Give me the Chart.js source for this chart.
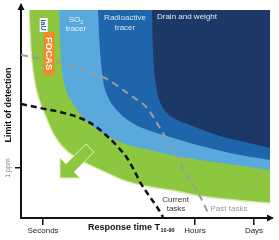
<!DOCTYPE html>
<html>
<head>
<meta charset="utf-8">
<script src="https://cdn.jsdelivr.net/npm/chart.js@4.4.1/dist/chart.umd.min.js"></script>
<style>
html,body{margin:0;padding:0;background:#ffffff;}
#wrap{position:relative;width:279px;height:240px;}
canvas{display:block;}
</style>
</head>
<body>
<div id="wrap"><canvas id="chart" width="279" height="240"></canvas></div>
<script>
// Conceptual diagram: x = log10(response time in seconds), y = log limit of detection (1 ppm = 0)
const xTickValues = [0, 3.556, 4.936];
const xTickLabels = ['Seconds', 'Hours', 'Days'];
const yTickValues = [0];
const yTickLabels = ['1 ppm'];

const regionTop = 3.95;

// iaU FOCAS (green) region boundary
const focasX = [-0.327, -0.304, -0.281, -0.234, -0.164, -0.070, 0.070, 0.234, 0.444, 0.749, 1.099, 1.450, 1.871, 2.386, 2.971, 3.673, 4.491, 5.310];
const focasY = [3.95, 3.45, 2.95, 2.45, 2.0, 1.65, 1.275, 0.875, 0.55, 0.275, 0.075, -0.1, -0.3, -0.45, -0.55, -0.7, -0.8, -0.875];
// SO2 tracer region boundary
const so2X = [0.374, 0.398, 0.444, 0.538, 0.678, 0.866, 1.099, 1.333, 1.871, 2.503, 2.971, 3.673, 4.491, 5.310];
const so2Y = [3.95, 3.2, 2.45, 1.95, 1.65, 1.35, 1.1, 0.9, 0.625, 0.45, 0.325, 0.2, 0.075, -0.05];
// Radioactive tracer region boundary
const radioX = [1.287, 1.333, 1.404, 1.520, 1.684, 1.918, 2.269, 2.971, 3.439, 4.374, 5.310];
const radioY = [3.95, 2.95, 2.2, 1.775, 1.5, 1.25, 1.025, 0.775, 0.625, 0.375, 0.2];
// Drain and weight region boundary
const drainX = [2.550, 2.573, 2.643, 2.737, 2.901, 3.135, 3.439, 4.140, 4.725, 5.310];
const drainY = [3.95, 2.95, 2.075, 1.65, 1.375, 1.2, 1.075, 0.8, 0.65, 0.5];
// Past tasks (grey dashed)
const pastX = [-0.515, 0.398, 1.450, 2.035, 2.433, 2.737, 2.971, 3.322, 3.509, 3.719, 3.860];
const pastY = [2.825, 2.625, 2.25, 1.825, 1.5, 1.0, 0.575, -0.1, -0.425, -0.8, -1.125];
// Current tasks (black dashed)
const currentX = [-0.515, -0.070, 0.398, 0.866, 1.216, 1.497, 1.754, 1.965, 2.129, 2.269, 2.503, 2.667, 2.807];
const currentY = [1.6, 1.5, 1.4, 1.25, 1.05, 0.8, 0.525, 0.25, -0.05, -0.35, -0.725, -0.975, -1.225];
// Green improvement arrow outline
const arrowX = [0.398, 0.866, 0.725, 1.193, 1.006, 0.538, 0.398];
const arrowY = [-0.25, -0.25, -0.1, 0.4, 0.6, 0.1, 0.25];

const FONT = "'Liberation Sans', Arial, Helvetica, sans-serif";

function pts(xs, ys) { return xs.map((x, i) => ({x: x, y: ys[i]})); }

function region(label, xs, ys, color, order, border) {
  return {
    label: label, data: pts(xs, ys),
    backgroundColor: color,
    borderColor: border || color,
    borderWidth: border ? 1.3 : 0,
    fill: {value: regionTop},
    pointRadius: 0, pointHoverRadius: 0,
    cubicInterpolationMode: 'monotone',
    order: order
  };
}

const labels = [
  {text: 'tracer', x: 0.772, y: 3.475, color: '#e6f1fa', size: 8},
  {text: 'Radioactive', x: 1.918, y: 3.75, color: '#d8e5f2', size: 8},
  {text: 'tracer', x: 1.918, y: 3.5, color: '#d8e5f2', size: 8},
  {text: 'Drain and weight', x: 3.368, y: 3.775, color: '#dfe7f1', size: 8},
  {text: 'Current', x: 3.1, y: -0.8, color: '#333333', size: 8},
  {text: 'tasks', x: 3.111, y: -1.025, color: '#333333', size: 8},
  {text: 'Past tasks', x: 4.35, y: -1.025, color: '#9a9a9a', size: 8}
];

const decor = {
  id: 'decor',
  afterDatasetsDraw(chart) {
    const ctx = chart.ctx;
    const sx = chart.scales.x, sy = chart.scales.y;
    const X = v => sx.getPixelForValue(v), Y = v => sy.getPixelForValue(v);
    ctx.save();
    // arrow
    ctx.beginPath();
    arrowX.forEach((v, i) => { const px = X(v), py = Y(arrowY[i]); if (i === 0) ctx.moveTo(px, py); else ctx.lineTo(px, py); });
    ctx.closePath();
    ctx.fillStyle = '#8dc63f';
    ctx.fill();
    ctx.strokeStyle = '#dcefb8';
    ctx.lineWidth = 1;
    ctx.stroke();
    // region labels
    ctx.textAlign = 'center';
    ctx.textBaseline = 'middle';
    labels.forEach(l => {
      ctx.font = l.size + 'px ' + FONT;
      ctx.fillStyle = l.color;
      ctx.fillText(l.text, X(l.x), Y(l.y));
    });
    // SO2 with subscript
    ctx.fillStyle = '#e6f1fa';
    ctx.font = '8px ' + FONT;
    const soW = ctx.measureText('SO').width;
    ctx.font = '5.5px ' + FONT;
    const twoW = ctx.measureText('2').width;
    const cx = X(0.772), cy = Y(3.7);
    ctx.textAlign = 'left';
    ctx.font = '8px ' + FONT;
    ctx.fillText('SO', cx - (soW + twoW) / 2, cy);
    ctx.font = '5.5px ' + FONT;
    ctx.fillText('2', cx - (soW + twoW) / 2 + soW, cy + 2.5);
    // logo: iaU (white box) + FOCAS (orange box)
    const wx = X(0.016), wy = Y(3.575);
    ctx.fillStyle = '#ffffff';
    ctx.fillRect(wx - 4, wy - 7, 8, 14);
    ctx.save();
    ctx.translate(wx, wy);
    ctx.rotate(Math.PI / 2);
    ctx.textAlign = 'center';
    ctx.fillStyle = '#1d5ea8';
    ctx.font = 'bold 7px ' + FONT;
    ctx.fillText('iaU', 0, 0.5);
    ctx.restore();
    const ox = X(0.140), oy = Y(2.86);
    ctx.fillStyle = '#f08a2a';
    ctx.fillRect(ox - 5.5, oy - 21.5, 11, 43);
    ctx.save();
    ctx.translate(ox, oy);
    ctx.rotate(Math.PI / 2);
    ctx.textAlign = 'center';
    ctx.fillStyle = '#ffffff';
    ctx.font = 'bold 9.5px ' + FONT;
    ctx.fillText('FOCAS', 0, 0.5);
    ctx.restore();
    ctx.restore();
  },
  afterDraw(chart) {
    const ctx = chart.ctx;
    const a = chart.chartArea;
    const sy = chart.scales.y, sx = chart.scales.x;
    ctx.save();
    ctx.fillStyle = '#111111';
    // y axis arrowhead
    ctx.beginPath();
    ctx.moveTo(a.left, a.top - 2);
    ctx.lineTo(a.left - 3.5, a.top + 5);
    ctx.lineTo(a.left + 3.5, a.top + 5);
    ctx.closePath();
    ctx.fill();
    // x axis arrowhead
    ctx.beginPath();
    ctx.moveTo(a.right + 2, a.bottom);
    ctx.lineTo(a.right - 5, a.bottom - 3.5);
    ctx.lineTo(a.right - 5, a.bottom + 3.5);
    ctx.closePath();
    ctx.fill();
    // y title
    ctx.save();
    ctx.translate(a.left - 12, sy.getPixelForValue(1.575));
    ctx.rotate(-Math.PI / 2);
    ctx.textAlign = 'center';
    ctx.textBaseline = 'middle';
    ctx.font = 'bold 9px ' + FONT;
    ctx.fillText('Limit of detection', 0, 0);
    ctx.restore();
    // x title
    const tx = sx.getPixelForValue(1.053), ty = a.bottom + 10;
    ctx.textAlign = 'left';
    ctx.textBaseline = 'middle';
    ctx.font = 'bold 9px ' + FONT;
    ctx.fillText('Response time T', tx, ty);
    const w = ctx.measureText('Response time T').width;
    ctx.font = 'bold 5.5px ' + FONT;
    ctx.fillText('10-90', tx + w + 0.5, ty + 2.5);
    ctx.restore();
  }
};

new Chart(document.getElementById('chart'), {
  type: 'line',
  data: {
    datasets: [
      {label: 'Current tasks', data: pts(currentX, currentY), borderColor: '#111111', borderWidth: 2.5, borderDash: [6, 4], fill: false, pointRadius: 0, cubicInterpolationMode: 'monotone', order: 1},
      {label: 'Past tasks', data: pts(pastX, pastY), borderColor: '#9c9c9c', borderWidth: 2, borderDash: [7, 5], fill: false, pointRadius: 0, cubicInterpolationMode: 'monotone', order: 2},
      region('Drain and weight', drainX, drainY, '#1c3866', 4),
      region('Radioactive tracer', radioX, radioY, '#1f65ab', 5),
      region('SO2 tracer', so2X, so2Y, '#59a9dd', 6),
      region('iaU FOCAS', focasX, focasY, '#8dc63f', 7, '#d3e9a8')
    ]
  },
  options: {
    responsive: false,
    animation: false,
    devicePixelRatio: 1,
    layout: {padding: {left: 0, top: 5, right: 7, bottom: 0}},
    plugins: {legend: {display: false}, tooltip: {enabled: false}},
    scales: {
      x: {
        type: 'linear', min: -0.515, max: 5.357,
        afterFit(s) { s.height = 22; },
        afterBuildTicks(s) { s.ticks = xTickValues.map(v => ({value: v})); },
        ticks: {callback: (v, i) => xTickLabels[i], autoSkip: false, minRotation: 0, maxRotation: 0, padding: 1, color: '#222222', font: {size: 8, family: FONT}},
        grid: {drawOnChartArea: false, drawTicks: true, tickLength: 7, color: '#111111', lineWidth: 1.5},
        border: {display: true, color: '#111111', width: 2}
      },
      y: {
        type: 'linear', min: -1.25, max: 4.075,
        afterFit(s) { s.width = 21; },
        afterBuildTicks(s) { s.ticks = yTickValues.map(v => ({value: v})); },
        ticks: {callback: (v, i) => yTickLabels[i], minRotation: 90, maxRotation: 90, crossAlign: 'center', padding: -3, color: '#777777', font: {size: 7, family: FONT}},
        grid: {drawOnChartArea: false, drawTicks: true, tickLength: 6, color: '#111111', lineWidth: 1.5},
        border: {display: true, color: '#111111', width: 2}
      }
    }
  },
  plugins: [decor]
});
</script>
</body>
</html>
